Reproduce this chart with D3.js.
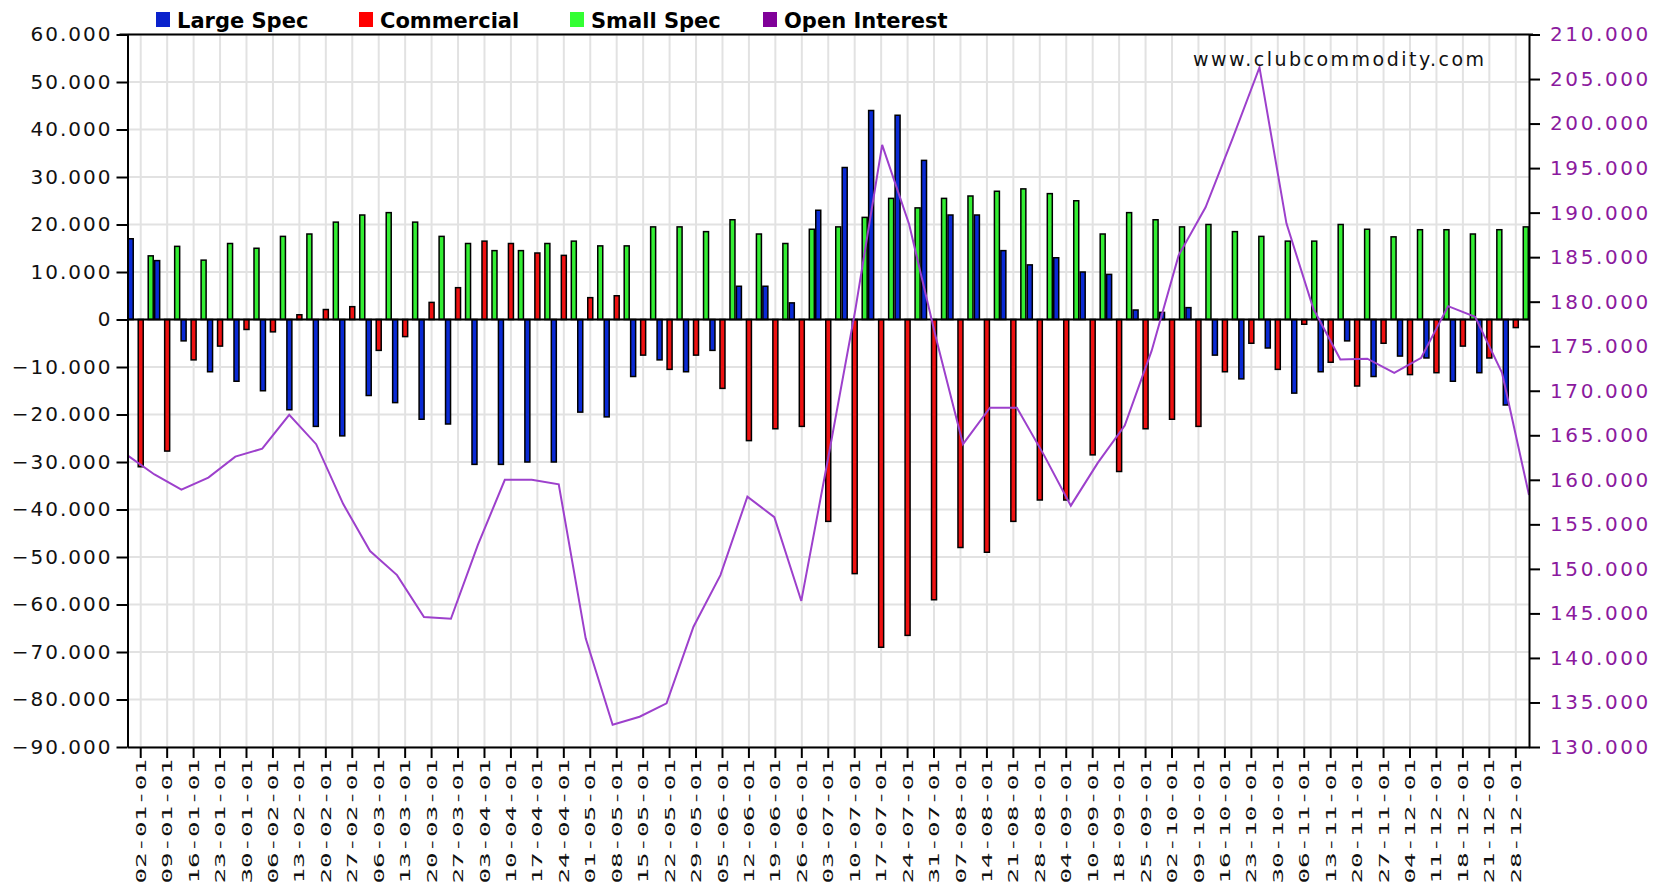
<!DOCTYPE html>
<html>
<head>
<meta charset="utf-8">
<script src="https://cdn.jsdelivr.net/npm/d3@7"></script>
<style>
  body { margin: 0; background: #fff; }
  svg { display: block; font-family: "DejaVu Sans", Verdana, sans-serif; }
</style>
</head>
<body>
<svg id="chart"></svg>
<script>
const width = 1667;
const height = 889;

const dates = ["02-01-01","09-01-01","16-01-01","23-01-01","30-01-01","06-02-01","13-02-01","20-02-01","27-02-01",
  "06-03-01","13-03-01","20-03-01","27-03-01","03-04-01","10-04-01","17-04-01","24-04-01","01-05-01","08-05-01",
  "15-05-01","22-05-01","29-05-01","05-06-01","12-06-01","19-06-01","26-06-01","03-07-01","10-07-01","17-07-01",
  "24-07-01","31-07-01","07-08-01","14-08-01","21-08-01","28-08-01","04-09-01","10-09-01","18-09-01","25-09-01",
  "02-10-01","09-10-01","16-10-01","23-10-01","30-10-01","06-11-01","13-11-01","20-11-01","27-11-01","04-12-01",
  "11-12-01","18-12-01","21-12-01","28-12-01"];

const largeSpec = [17000, 12400, -4500, -11000, -13000, -15000, -19000, -22500, -24500, -16000, -17500, -21000,
  -22000, -30500, -30500, -30000, -30000, -19500, -20500, -12000, -8500, -11000, -6500, 7000, 7000, 3500, 23000,
  32000, 44000, 43000, 33500, 22000, 22000, 14500, 11500, 13000, 10000, 9500, 2000, 1500, 2500, -7500, -12500,
  -6000, -15500, -11000, -4500, -12000, -7700, -8100, -13000, -11200, -18000];

const commercial = [-31000, -27700, -8500, -5600, -2100, -2600, 1000, 2100, 2700, -6500, -3600, 3600, 6700,
  16500, 16000, 14000, 13500, 4600, 5000, -7500, -10500, -7500, -14500, -25500, -23000, -22500, -42500, -53500,
  -69000, -66500, -59000, -48000, -49000, -42500, -38000, -38000, -28500, -32000, -23000, -21000, -22500, -11000,
  -5000, -10500, -1000, -9000, -14000, -5000, -11600, -11200, -5600, -8100, -1700];

const smallSpec = [13400, 15400, 12500, 16000, 15000, 17500, 18000, 20500, 22000, 22500, 20500, 17500, 16000,
  14500, 14500, 16000, 16500, 15500, 15500, 19500, 19500, 18500, 21000, 18000, 16000, 19000, 19500, 21500, 25500,
  23500, 25500, 26000, 27000, 27500, 26500, 25000, 18000, 22500, 21000, 19500, 20000, 18500, 17500, 16500, 16500,
  20000, 19000, 17400, 18900, 18900, 18000, 18900, 19500];

const openInterest = [162750, 160600, 158900, 160250, 162600, 163500, 167300, 164000, 157300, 152000, 149300,
  144600, 144400, 152700, 160000, 160000, 159500, 142200, 132500, 133400, 134900, 143500, 149300, 158100, 155800,
  146400, 162500, 179000, 197600, 188700, 175900, 164000, 168100, 168100, 162800, 157100, 161900, 166100, 174500,
  185200, 190600, 198300, 206300, 188800, 179200, 173500, 173600, 172000, 173700, 179500, 178300, 172000, 158300];

const leftTicks = d3.range(-90000, 60001, 10000);
const rightTicks = d3.range(130000, 210001, 5000);
const barSeries = ["Large Spec", "Commercial", "Small Spec"];
const legendNames = ["Large Spec", "Commercial", "Small Spec", "Open Interest"];

const colors = {
  "Large Spec": "#0a2ad4",
  "Commercial": "#ee1111",
  "Small Spec": "#33ee33",
  "Open Interest": "#9d40cc"
};
const legendColors = ["#0a22cc", "#ff0000", "#33ff33", "#800099"];

const margin = {top: 34.5, right: 138, bottom: 142, left: 127.5};
const plotRight = width - margin.right;
const plotBottom = height - margin.bottom;

const svg = d3.select("#chart")
  .attr("width", width)
  .attr("height", height);

svg.append("rect").attr("width", width).attr("height", height).attr("fill", "#fff");

const fmt = d3.formatLocale({decimal: ",", thousands: ".", grouping: [3], currency: ["", ""]}).format(",d");

const x = d3.scaleBand().domain(dates).range([margin.left, plotRight]).padding(0);
const xInner = d3.scaleBand().domain(barSeries).range([-12.5, 12.5]).paddingInner(0.5);
const xLine = d3.scalePoint().domain(dates).range([margin.left, plotRight]);
const y = d3.scaleLinear().domain([-90000, 60000]).range([plotBottom, margin.top]);
const y2 = d3.scaleLinear().domain([130000, 210000]).range([plotBottom, margin.top]);

// grid
const grid = svg.append("g");
grid.selectAll(".vgrid")
  .data(dates)
  .enter()
  .append("line")
  .attr("x1", d => x(d) + x.bandwidth() / 2)
  .attr("x2", d => x(d) + x.bandwidth() / 2)
  .attr("y1", margin.top)
  .attr("y2", plotBottom)
  .attr("stroke", "#e2e2e2")
  .attr("stroke-width", 2);
grid.selectAll(".hgrid")
  .data(leftTicks)
  .enter()
  .append("line")
  .attr("x1", margin.left)
  .attr("x2", plotRight)
  .attr("y1", d => y(d))
  .attr("y2", d => y(d))
  .attr("stroke", "#e2e2e2")
  .attr("stroke-width", 2);

// bars
const rows = dates.map((d, i) => ({
  date: d,
  values: [
    {key: "Large Spec", value: largeSpec[i]},
    {key: "Commercial", value: commercial[i]},
    {key: "Small Spec", value: smallSpec[i]}
  ]
}));

const groups = svg.append("g")
  .selectAll("g")
  .data(rows)
  .enter()
  .append("g")
  .attr("transform", d => `translate(${x(d.date) + x.bandwidth() / 2},0)`);

groups.selectAll("rect")
  .data(d => d.values)
  .enter()
  .append("rect")
  .attr("x", d => xInner(d.key))
  .attr("width", xInner.bandwidth())
  .attr("y", d => Math.min(y(d.value), y(0)))
  .attr("height", d => Math.abs(y(d.value) - y(0)))
  .attr("fill", d => colors[d.key])
  .attr("stroke", "#000")
  .attr("stroke-width", 1.5);

// zero line
svg.append("line")
  .attr("x1", margin.left).attr("x2", plotRight)
  .attr("y1", y(0)).attr("y2", y(0))
  .attr("stroke", "#000").attr("stroke-width", 2);

// open interest line
const line = d3.line()
  .x((d, i) => xLine(dates[i]))
  .y(d => y2(d));

svg.append("path")
  .datum(openInterest)
  .attr("fill", "none")
  .attr("stroke", colors["Open Interest"])
  .attr("stroke-width", 2)
  .attr("d", line);

// axes
const leftAxis = svg.append("g")
  .attr("transform", `translate(${margin.left},0)`)
  .call(d3.axisLeft(y).tickValues(leftTicks).tickFormat(fmt).tickSizeInner(11).tickSizeOuter(0).tickPadding(4));

const rightAxis = svg.append("g")
  .attr("transform", `translate(${plotRight},0)`)
  .call(d3.axisRight(y2).tickValues(rightTicks).tickFormat(fmt).tickSizeInner(11).tickSizeOuter(0).tickPadding(10));

const bottomAxis = svg.append("g")
  .attr("transform", `translate(0,${plotBottom})`)
  .call(d3.axisBottom(x).tickSizeInner(11).tickSizeOuter(0).tickFormat(""));

[leftAxis, rightAxis, bottomAxis].forEach(a => {
  a.select(".domain").attr("stroke", "#000").attr("stroke-width", 2);
  a.selectAll(".tick line").attr("stroke", "#000").attr("stroke-width", 2);
});

leftAxis.selectAll("text")
  .attr("font-family", "DejaVu Sans")
  .attr("font-size", 20)
  .attr("letter-spacing", "2px")
  .attr("fill", "#111");

rightAxis.selectAll("text")
  .attr("font-family", "DejaVu Sans")
  .attr("font-size", 20)
  .attr("letter-spacing", "2.6px")
  .attr("fill", "#8b1a9e");

// top border
svg.append("line")
  .attr("x1", margin.left - 8).attr("x2", plotRight + 4)
  .attr("y1", margin.top).attr("y2", margin.top)
  .attr("stroke", "#000").attr("stroke-width", 2);

// x labels
svg.append("g")
  .selectAll("text")
  .data(dates)
  .enter()
  .append("text")
  .attr("transform", d => `translate(${x(d) + x.bandwidth() / 2},${plotBottom + 12}) rotate(-90) scale(1.85,1)`)
  .attr("text-anchor", "end")
  .attr("dy", "0.36em")
  .attr("font-family", "DejaVu Sans Mono")
  .attr("font-size", 14)
  .attr("fill", "#111")
  .text(d => d);

// legend
const legendX = [156, 359, 570, 763];
const legend = svg.append("g")
  .selectAll("g")
  .data(legendNames)
  .enter()
  .append("g")
  .attr("transform", (d, i) => `translate(${legendX[i]},12)`);

legend.append("rect")
  .attr("width", 14)
  .attr("height", 15)
  .attr("fill", (d, i) => legendColors[i]);

legend.append("text")
  .attr("x", 21)
  .attr("y", 16)
  .attr("font-family", "DejaVu Sans")
  .attr("font-weight", "bold")
  .attr("font-size", 21)
  .attr("fill", "#000")
  .text(d => d);

// watermark
svg.append("text")
  .attr("x", 1193)
  .attr("y", 66)
  .attr("font-family", "DejaVu Sans")
  .attr("font-size", 19)
  .attr("textLength", 291)
  .attr("lengthAdjust", "spacing")
  .attr("fill", "#111")
  .text("www.clubcommodity.com");
</script>
</body>
</html>
